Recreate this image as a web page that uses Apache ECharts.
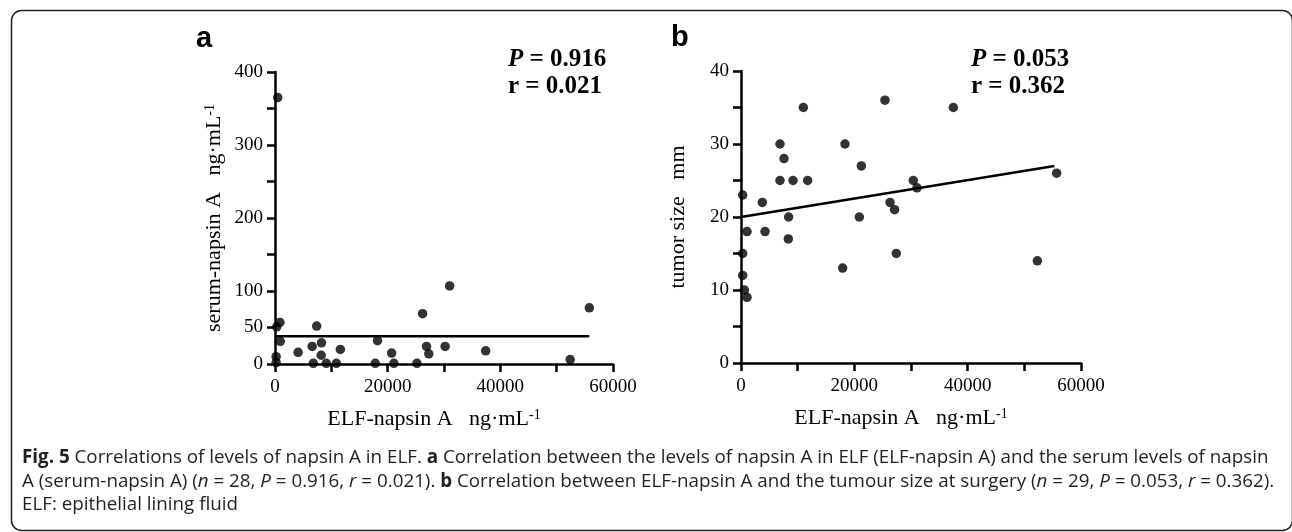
<!DOCTYPE html>
<html>
<head>
<meta charset="utf-8">
<script src="https://cdn.jsdelivr.net/npm/echarts@6/dist/echarts.min.js"></script>
<style>
  html, body { margin: 0; padding: 0; background: #fff; }
  #chart { width: 1292px; height: 532px; }
</style>
</head>
<body>
<div id="chart"></div>
<script>
// ELF-napsin A vs serum-napsin A (panel a, n = 28)
const serumPoints = [
  [200, 2], [200, 10], [300, 51], [480, 365], [880, 57], [940, 31],
  [4100, 16], [6600, 24], [6800, 1], [7400, 52], [8200, 12], [8250, 29],
  [9100, 1], [10900, 1], [11600, 20], [17800, 1], [18200, 32], [20700, 15],
  [21100, 1], [25200, 1], [26200, 69], [26900, 24], [27300, 14], [30200, 24],
  [31000, 107], [37400, 18], [52400, 6], [55800, 77]
]
const serumFit = [[0, 38], [55800, 38]]

// ELF-napsin A vs tumour size (panel b, n = 29)
const tumorPoints = [
  [300, 23], [300, 15], [300, 12], [600, 10], [1060, 9], [1060, 18],
  [3760, 22], [4240, 18], [6880, 30], [6880, 25], [7590, 28], [8350, 17],
  [8400, 20], [9180, 25], [11000, 35], [11760, 25], [17940, 13], [18350, 30],
  [20880, 20], [21240, 27], [25410, 36], [26300, 22], [27100, 21], [27400, 15],
  [30400, 25], [31060, 24], [37470, 35], [52300, 14], [55700, 26]
]
const tumorFit = [[0, 20], [55300, 27]]

const xLabels = [0, 20000, 40000, 60000]
const serumYLabels = [0, 50, 100, 200, 300, 400]
const tumorYLabels = [0, 10, 20, 30, 40]

const statsA = { P: '0.916', r: '0.021' }
const statsB = { P: '0.053', r: '0.362' }

const chart = echarts.init(document.getElementById('chart'))

const serif = 'Liberation Serif'
const axisStyle = {
  axisLine: { lineStyle: { color: '#000', width: 2.5 } },
  axisTick: { length: 8, lineStyle: { color: '#000', width: 2.5 } },
  splitLine: { show: false }
}
const nameRich = {
  n: { fontFamily: serif, fontSize: 22, color: '#000' },
  s: { fontFamily: serif, fontSize: 14, color: '#000', verticalAlign: 'top' }
}

const makeX = (gridIndex) => ({
  type: 'value', gridIndex, min: 0, max: 60000, interval: 10000,
  ...axisStyle,
  axisLabel: {
    fontFamily: serif, fontSize: 19, color: '#000', margin: 14,
    formatter: v => (xLabels.includes(v) ? String(v) : '')
  },
  name: '{n|ELF-napsin A   ng·mL}{s|-1}',
  nameLocation: 'middle', nameGap: 44,
  nameTextStyle: { rich: nameRich, padding: [0, 20, 0, 0] }
})

const makeY = (gridIndex, max, interval, labels, name, gap) => ({
  type: 'value', gridIndex, min: 0, max, interval,
  ...axisStyle,
  axisLabel: {
    fontFamily: serif, fontSize: 19, color: '#000', margin: 12,
    formatter: v => (labels.includes(v) ? String(v) : '')
  },
  name, nameLocation: 'middle', nameGap: gap, nameRotate: 90,
  nameTextStyle: { rich: nameRich }
})

const dotStyle = { color: '#000' }
const fitStyle = { color: '#000', width: 2.5 }

const statText = (x, s) => ({
  type: 'text', left: x, top: 46,
  style: {
    text: '{pi|P} = ' + s.P + '\nr = ' + s.r,
    fontFamily: serif, fontSize: 25, fontWeight: 'bold', fill: '#000',
    lineHeight: 27, align: 'center',
    rich: { pi: { fontFamily: serif, fontSize: 25, fontWeight: 'bold', fontStyle: 'italic' } }
  }
})

const capRich = {
  b: { fontFamily: 'Open Sans', fontSize: 18.8, fontWeight: 'bold', fill: '#231f20' },
  i: { fontFamily: 'Open Sans', fontSize: 18.8, fontStyle: 'italic', fill: '#231f20' }
}

chart.setOption({
  animation: false,
  grid: [
    { left: 275, top: 72, width: 338, height: 292 },
    { left: 741, top: 71, width: 340, height: 292 }
  ],
  xAxis: [makeX(0), makeX(1)],
  yAxis: [
    makeY(0, 400, 50, serumYLabels, '{n|serum-napsin A   ng·mL}{s|-1}', 50),
    makeY(1, 40, 5, tumorYLabels, '{n|tumor size   mm}', 52)
  ],
  series: [
    { type: 'scatter', xAxisIndex: 0, yAxisIndex: 0, data: serumPoints, symbolSize: 9.5, itemStyle: dotStyle },
    { type: 'line', xAxisIndex: 0, yAxisIndex: 0, data: serumFit, showSymbol: false, lineStyle: fitStyle },
    { type: 'scatter', xAxisIndex: 1, yAxisIndex: 1, data: tumorPoints, symbolSize: 9.5, itemStyle: dotStyle },
    { type: 'line', xAxisIndex: 1, yAxisIndex: 1, data: tumorFit, showSymbol: false, lineStyle: fitStyle }
  ],
  graphic: [
    {
      type: 'rect', left: 9, top: 8,
      shape: { width: 1281, height: 520, r: 10 },
      style: { fill: 'none', stroke: '#222', lineWidth: 1.5 }
    },
    { type: 'text', left: 196, top: 24, style: { text: 'a', fontFamily: 'Liberation Sans', fontWeight: 'bold', fontSize: 29, fill: '#000' } },
    { type: 'text', left: 671, top: 23, style: { text: 'b', fontFamily: 'Liberation Sans', fontWeight: 'bold', fontSize: 29, fill: '#000' } },
    statText(508, statsA),
    statText(971, statsB),
    {
      type: 'text', left: 22, top: 446,
      style: {
        text: '{b|Fig. 5} Correlations of levels of napsin A in ELF. {b|a} Correlation between the levels of napsin A in ELF (ELF-napsin A) and the serum levels of napsin\n' +
          'A (serum-napsin A) ({i|n} = 28, {i|P} = 0.916, {i|r} = 0.021). {b|b} Correlation between ELF-napsin A and the tumour size at surgery ({i|n} = 29, {i|P} = 0.053, {i|r} = 0.362).\n' +
          'ELF: epithelial lining fluid',
        fontFamily: 'Open Sans', fontSize: 18.8, fill: '#231f20', lineHeight: 23.5,
        rich: capRich
      }
    }
  ]
})
</script>
</body>
</html>
